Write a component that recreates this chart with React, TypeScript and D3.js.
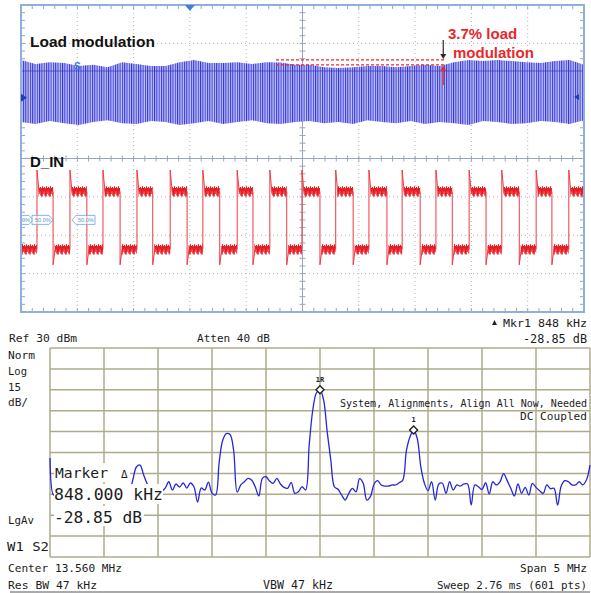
import React from "react";
import * as d3 from "d3";

const W = 591;
const H = 593;

// ---------------- Oscilloscope (units: divisions, 10 x ±4) ----------------
const scopeTimeDivs = 10;
const scopeAmpDivs = 4;

// Load-modulated carrier envelope (top / bottom, divisions)
const carrierTop = [
  2.57, 2.46, 2.51, 2.49, 2.41, 2.44, 2.38, 2.51, 2.46, 2.41,
  2.41, 2.51, 2.57, 2.49, 2.49, 2.51, 2.46, 2.51, 2.5, 2.44,
  2.44, 2.38, 2.36, 2.38, 2.41, 2.41, 2.38, 2.41, 2.44, 2.41,
  2.51, 2.57, 2.54, 2.57, 2.54, 2.51, 2.49, 2.54, 2.57, 2.44,
];
const carrierBottom = [
  0.95, 0.9, 0.98, 0.92, 0.87, 0.95, 1.0, 0.92, 0.9, 0.98,
  0.95, 0.87, 0.92, 0.98, 0.9, 0.95, 1.0, 0.92, 0.9, 0.95,
  0.98, 0.92, 0.95, 0.9, 1.0, 0.95, 0.92, 0.98, 0.9, 0.95,
  0.92, 0.87, 0.98, 0.95, 0.9, 0.92, 0.98, 0.95, 0.9, 1.0,
];
const carrierLineLevel = 2.28;
const modulationLevels = [2.57, 2.44];
const modulationSpan = [4.53, 7.55];
const modulationLabel = ["3.7% load", "modulation"];

// D_IN square wave edges (divisions)
const dinRising = [0.284, 0.87, 1.456, 2.06, 2.65, 3.23, 3.84, 4.42, 4.99, 5.59, 6.18, 6.77, 7.37, 7.96, 8.54, 9.15, 9.73];
const dinFalling = [0.57, 1.17, 1.76, 2.34, 2.95, 3.53, 4.12, 4.72, 5.31, 5.9, 6.5, 7.09, 7.66, 8.26, 8.85, 9.43];
const dinHigh = -0.86;
const dinLow = -2.37;
const dinOvershoot = -0.3;
const dinUndershoot = -2.77;

const scopeLabels = ["Load modulation", "D_IN"];
const tagText = "50.0%";

// ---------------- Spectrum analyzer ----------------
const centerMHz = 13.56;
const spanMHz = 5;
const refDbm = 30;
const dbPerDiv = 15;
const gridDivs = 10;

const traceDb = [
  -49, -75.5,
  -74, -71, -76, -73, -70, -75, -72, -77, -73, -70, -74, -76, -72, -69, -73, -75, -71, -74, -72, -70, -73,
  -64.7, -55.4, -54, -61, -67.6, -73, -71, -75, -73, -70.5,
  -66, -72, -67.6, -69.8, -66.9, -70.5, -66.9, -69.8, -80.6, -70.5,
  -71.9, -66.2, -74.1, -75.5, -51.8, -36.0, -31.4, -32.1, -43.2, -73.4,
  -68.3, -66.0, -63.6, -64.8, -69.6, -76.2, -63.6, -62.4, -65.5, -67.1,
  -63.6, -67.6, -70.0, -70.7, -66.4, -74.3, -73.2, -69.6, -71.9, -39.6,
  -14.5, -2.3, 0, -7.3, -30.2, -50.4, -69.6, -71.4, -75.5, -79.1,
  -74.3, -70.7, -73.2, -63.8, -67.1, -79.1, -76.7, -67.8, -65.2, -68.3,
  -69.1, -69.1, -68.3, -68.3, -66.7, -64.8, -43.7, -33.7, -28.85, -34.8,
  -55.2, -67.1, -72.4, -66.0, -79.1, -67.6, -67.1, -74.3, -66.0, -71.9,
  -68.3, -69.1, -67.6, -67.6, -82.7, -68.3, -69.6, -71.4, -66.7, -74.8,
  -66.0, -68.3, -66.0, -60.2, -65.2, -70.7, -76.2, -67.6, -74.3, -70.0,
  -75.5, -67.1, -70.0, -72.4, -74.3, -68.3, -71.0, -70.7, -82.7, -69.1,
  -65.2, -66.0, -68.3, -68.3, -66.0, -68.3, -64.8, -54.0,
];
const markerIdx = [75, 101];
const markerNames = ["1R", "1"];

const headerLeft = ["Ref 30 dBm", "Atten 40 dB"];
const headerRight = ["Mkr1  848 kHz", "-28.85 dB"];
const sideLabels = ["Norm", "Log", "15", "dB/", "LgAv", "W1  S2"];
const markerReadout = ["Marker", "848.000 kHz", "-28.85 dB"];
const messages = ["System, Alignments, Align All Now, Needed", "DC Coupled"];
const footer = ["Center 13.560 MHz", "Span 5 MHz", "Res BW 47 kHz", "VBW 47 kHz", "Sweep 2.76 ms (601 pts)"];

const mono = "'DejaVu Sans Mono', 'Liberation Mono', monospace";
const sans = "'Liberation Sans', Arial, sans-serif";

function MT(props: any) {
  const { x, y, len, anchor, size = 11.5, children, fill = "#1c1c1c" } = props;
  const s = String(children);
  const fs = Math.min(size, len / (s.length * 0.602));
  return (
    <text x={x} y={y} fontFamily={mono} fontSize={fs} textAnchor={anchor || "start"}
      textLength={len} lengthAdjust="spacingAndGlyphs" fill={fill}>{s}</text>
  );
}

export default function App() {
  // scope scales
  const sx = d3.scaleLinear().domain([0, scopeTimeDivs]).range([21, 584]);
  const sy = d3.scaleLinear().domain([-scopeAmpDivs, scopeAmpDivs]).range([312, 5]);

  // spectrum scales
  const fx = d3.scaleLinear().domain([centerMHz - spanMHz / 2, centerMHz + spanMHz / 2]).range([50, 590]);
  const fy = d3.scaleLinear().domain([refDbm - gridDivs * dbPerDiv, refDbm]).range([557, 348]);
  const freqAt = (i: number) => centerMHz - spanMHz / 2 + (i * spanMHz) / (traceDb.length - 1);

  const n = carrierTop.length;
  const band = d3.area<number>()
    .x((_, i) => sx((i * scopeTimeDivs) / (n - 1)))
    .y0((_, i) => sy(carrierBottom[i]))
    .y1((_, i) => sy(carrierTop[i]));
  const bandPath = band(carrierTop) || "";

  // D_IN edges
  const edges = [
    ...dinRising.map((t) => ({ t, up: true })),
    ...dinFalling.map((t) => ({ t, up: false })),
  ].sort((a, b) => a.t - b.t);
  let edgePath = "";
  edges.forEach((e) => {
    const from = e.up ? dinLow : dinHigh;
    const to = e.up ? dinHigh : dinLow;
    const spike = e.up ? dinOvershoot : dinUndershoot;
    edgePath += `M${sx(e.t)},${sy(from)}L${sx(e.t)},${sy(spike)}L${sx(e.t) + 2},${sy(to)}`;
  });
  const plateaus: { a: number; b: number; high: boolean }[] = [];
  let prev = 0;
  let high = false;
  edges.forEach((e) => {
    plateaus.push({ a: prev, b: e.t, high });
    prev = e.t;
    high = e.up;
  });
  plateaus.push({ a: prev, b: scopeTimeDivs, high });

  const line = d3.line<number>()
    .x((_, i) => fx(freqAt(i)))
    .y((d) => fy(d))
    .curve(d3.curveCatmullRom.alpha(0.5));
  const tracePath = line(traceDb) || "";

  // scope ticks
  const hTicks = d3.range(0, 51).map((k) => sx(k * 0.2));
  const vTicks = d3.range(0, 41).map((k) => sy(-4 + k * 0.2));
  const frame = "#8fb0da";
  const tickC = "#9aa6b8";

  const yHi = sy(dinHigh);
  const yLo = sy(dinLow);

  return (
    <svg width={W} height={H} style={{ position: "absolute", left: 0, top: 0, background: "#fff" }}>
      <defs>
        <pattern id="carrier" patternUnits="userSpaceOnUse" x={0} y={0} width={2.3} height={10}>
          <rect width={2.3} height={10} fill="#bfc2f5" />
          <rect width={1.0} height={10} fill="#3434d6" />
        </pattern>
        {[{ id: "nHi", y: yHi }, { id: "nLo", y: yLo }].map((p) => (
          <pattern key={p.id} id={p.id} patternUnits="userSpaceOnUse" x={0} y={p.y - 6.5} width={4} height={13}>
            <polyline points="0,6.5 0.5,2 1,10.5 1.5,3.5 2,11.5 2.5,1.5 3,9 3.5,3 4,6.5"
              fill="none" stroke="#e8141c" strokeWidth={1} />
          </pattern>
        ))}
      </defs>

      {/* ============ Oscilloscope ============ */}
      <rect x={21} y={5} width={563} height={307} fill="#fff" />
      {d3.range(1, 10).filter((k) => k !== 5).map((k) => (
        <line key={"gv" + k} x1={sx(k)} x2={sx(k)} y1={sy(4)} y2={sy(-4)} stroke="#b4b4b4" strokeDasharray="1,3" />
      ))}
      {d3.range(-3, 4).filter((k) => k !== 0).map((k) => (
        <line key={"gh" + k} x1={sx(0)} x2={sx(10)} y1={sy(k)} y2={sy(k)} stroke="#b4b4b4" strokeDasharray="1,3" />
      ))}
      <line x1={sx(5)} x2={sx(5)} y1={sy(4)} y2={sy(-4)} stroke={tickC} strokeWidth={1} />
      <line x1={sx(0)} x2={sx(10)} y1={sy(0)} y2={sy(0)} stroke={tickC} strokeWidth={1} />
      {hTicks.map((x, i) => (
        <g key={"ht" + i} stroke={tickC} strokeWidth={1}>
          <line x1={x} x2={x} y1={sy(4)} y2={sy(4) + 4} />
          <line x1={x} x2={x} y1={sy(-4)} y2={sy(-4) - 4} />
          <line x1={x} x2={x} y1={sy(0) - 3} y2={sy(0) + 3} />
        </g>
      ))}
      {vTicks.map((y, i) => (
        <g key={"vt" + i} stroke={tickC} strokeWidth={1}>
          <line x1={sx(0)} x2={sx(0) + 4} y1={y} y2={y} />
          <line x1={sx(10)} x2={sx(10) - 4} y1={y} y2={y} />
          <line x1={sx(5) - 3} x2={sx(5) + 3} y1={y} y2={y} />
        </g>
      ))}

      {/* carrier band */}
      <path d={bandPath} fill="url(#carrier)" />
      <line x1={sx(0)} x2={sx(10)} y1={sy(carrierLineLevel)} y2={sy(carrierLineLevel)} stroke="#3535c8" strokeWidth={1} opacity={0.7} />
      <text x={sx(1)} y={sy(2.3)} fontFamily={sans} fontSize={10} fontWeight="bold" fill="#3d7be0" textAnchor="middle">S</text>

      {/* D_IN */}
      {plateaus.map((p, i) => {
        const xa = sx(p.a) + (p.a > 0 ? 1.5 : 0);
        const xb = sx(p.b);
        const yc = p.high ? yHi : yLo;
        return <rect key={"pl" + i} x={xa} y={yc - 6.5} width={Math.max(0, xb - xa)} height={13} fill={`url(#${p.high ? "nHi" : "nLo"})`} />;
      })}
      <path d={edgePath} fill="none" stroke="#ee3a40" strokeWidth={1} />

      {/* 50% tags */}
      <g fill="#ffffff" fillOpacity={0.6} stroke="#6aa4e0" strokeWidth={0.8}>
        <polygon points={`21,${sy(-1.6) - 4.5} 29,${sy(-1.6) - 4.5} 33,${sy(-1.6)} 29,${sy(-1.6) + 4.5} 21,${sy(-1.6) + 4.5}`} />
        <polygon points={`32,${sy(-1.6) - 4.5} 49,${sy(-1.6) - 4.5} 53,${sy(-1.6)} 49,${sy(-1.6) + 4.5} 32,${sy(-1.6) + 4.5}`} />
        <polygon points={`72,${sy(-1.6)} 76,${sy(-1.6) - 4.5} 95,${sy(-1.6) - 4.5} 95,${sy(-1.6) + 4.5} 76,${sy(-1.6) + 4.5}`} />
      </g>
      <g fontFamily={sans} fontSize={5.5} fill="#5a94d6">
        <text x={22} y={sy(-1.6) + 2}>0%</text>
        <text x={35} y={sy(-1.6) + 2}>{tagText}</text>
        <text x={78} y={sy(-1.6) + 2}>{tagText}</text>
      </g>

      {/* frame */}
      <rect x={21} y={5} width={563} height={307} fill="none" stroke={frame} strokeWidth={2} />
      <polygon points={`${sx(3) - 5},5 ${sx(3) + 5},5 ${sx(3)},11`} fill="#3d80de" />
      <polygon points={`21,${sy(1.58) - 4} 27,${sy(1.58)} 21,${sy(1.58) + 4}`} fill="#1f3fb8" />
      <polygon points={`579,${sy(1.6) - 3} 574,${sy(1.6)} 579,${sy(1.6) + 3}`} fill="#1f3fb8" />

      {/* labels */}
      <text x={30} y={47} fontFamily={sans} fontWeight="bold" fontSize={15.5} fill="#111">{scopeLabels[0]}</text>
      <text x={30} y={167} fontFamily={sans} fontWeight="bold" fontSize={15} fill="#111">{scopeLabels[1]}</text>

      {/* modulation annotation */}
      {modulationLevels.map((lv, i) => (
        <line key={"ml" + i} x1={sx(modulationSpan[0])} x2={sx(modulationSpan[1])} y1={sy(lv)} y2={sy(lv)}
          stroke="#e8282b" strokeWidth={1.2} strokeDasharray="3,2" />
      ))}
      <line x1={sx(7.5)} x2={sx(7.5)} y1={40} y2={sy(modulationLevels[0]) - 5} stroke="#3a2020" strokeWidth={1.2} />
      <polygon points={`${sx(7.5) - 3},${sy(modulationLevels[0]) - 6} ${sx(7.5) + 3},${sy(modulationLevels[0]) - 6} ${sx(7.5)},${sy(modulationLevels[0]) - 1}`} fill="#3a2020" />
      <line x1={sx(7.5)} x2={sx(7.5)} y1={85} y2={sy(modulationLevels[1]) + 5} stroke="#e8282b" strokeWidth={1.2} />
      <polygon points={`${sx(7.5) - 3},${sy(modulationLevels[1]) + 6} ${sx(7.5) + 3},${sy(modulationLevels[1]) + 6} ${sx(7.5)},${sy(modulationLevels[1]) + 1}`} fill="#e8282b" />
      <text x={448} y={39} fontFamily={sans} fontWeight="bold" fontSize={15} fill="#e8282b">{modulationLabel[0]}</text>
      <text x={453} y={58} fontFamily={sans} fontWeight="bold" fontSize={15} fill="#e8282b">{modulationLabel[1]}</text>

      {/* ============ Spectrum analyzer ============ */}
      {d3.range(0, gridDivs + 1).map((i) => (
        <line key={"sv" + i} x1={fx(centerMHz - spanMHz / 2 + i * (spanMHz / gridDivs))} x2={fx(centerMHz - spanMHz / 2 + i * (spanMHz / gridDivs))}
          y1={fy(refDbm)} y2={fy(refDbm - gridDivs * dbPerDiv)} stroke="#aeab8c" strokeWidth={1.5} />
      ))}
      {d3.range(0, gridDivs + 1).map((i) => (
        <line key={"sh" + i} x1={fx(centerMHz - spanMHz / 2)} x2={fx(centerMHz + spanMHz / 2)}
          y1={fy(refDbm - i * dbPerDiv)} y2={fy(refDbm - i * dbPerDiv)} stroke="#aeab8c" strokeWidth={1.5} />
      ))}

      <path d={tracePath} fill="none" stroke="#2626d8" strokeWidth={1.3} />

      {/* markers */}
      {markerIdx.map((idx, i) => {
        const x = fx(freqAt(idx));
        const y = fy(traceDb[idx]);
        return (
          <g key={"mk" + i}>
            <polygon points={`${x},${y - 4} ${x + 4},${y} ${x},${y + 4} ${x - 4},${y}`} fill="#fff" stroke="#222" strokeWidth={1.4} />
            <text x={x} y={y - 8} fontFamily={mono} fontSize={7} fontWeight="bold" textAnchor="middle" fill="#222">{markerNames[i]}</text>
          </g>
        );
      })}

      {/* marker readout with white background */}
      <rect x={54} y={463} width={76} height={19} fill="#fff" />
      <rect x={54} y={484} width={109} height={20} fill="#fff" />
      <rect x={54} y={506} width={90} height={20} fill="#fff" />
      <MT x={55} y={478} size={17} len={53}>{markerReadout[0]}</MT>
      <text x={121} y={478} fontFamily={mono} fontSize={11} fill="#1c1c1c">Δ</text>
      <MT x={54} y={500} size={17} len={109}>{markerReadout[1]}</MT>
      <MT x={54} y={523} size={17} len={88}>{markerReadout[2]}</MT>

      {/* header */}
      <MT x={9} y={342} len={68}>{headerLeft[0]}</MT>
      <MT x={197} y={342} len={73}>{headerLeft[1]}</MT>
      <polygon points="492,325 497,325 494.5,320" fill="#222" />
      <MT x={587} y={327} len={84} anchor="end">{headerRight[0]}</MT>
      <MT x={587} y={343} len={64} anchor="end">{headerRight[1]}</MT>

      {/* side labels */}
      <MT x={8} y={359} len={27}>{sideLabels[0]}</MT>
      <MT x={8} y={375} len={19}>{sideLabels[1]}</MT>
      <MT x={8} y={391} len={13}>{sideLabels[2]}</MT>
      <MT x={8} y={406} len={20}>{sideLabels[3]}</MT>
      <MT x={8} y={524} len={26}>{sideLabels[4]}</MT>
      <MT x={7} y={551} len={42}>{sideLabels[5]}</MT>

      {/* messages */}
      <MT x={587} y={407} len={247} anchor="end">{messages[0]}</MT>
      <MT x={587} y={420} len={67} anchor="end">{messages[1]}</MT>

      {/* footer */}
      <MT x={8} y={572} len={114}>{footer[0]}</MT>
      <MT x={587} y={572} len={67} anchor="end">{footer[1]}</MT>
      <MT x={8} y={589} len={89}>{footer[2]}</MT>
      <MT x={263} y={589} len={70}>{footer[3]}</MT>
      <MT x={587} y={589} len={150} anchor="end">{footer[4]}</MT>
      <line x1={10} x2={590} y1={592} y2={592} stroke="#555" strokeWidth={1} />
    </svg>
  );
}
